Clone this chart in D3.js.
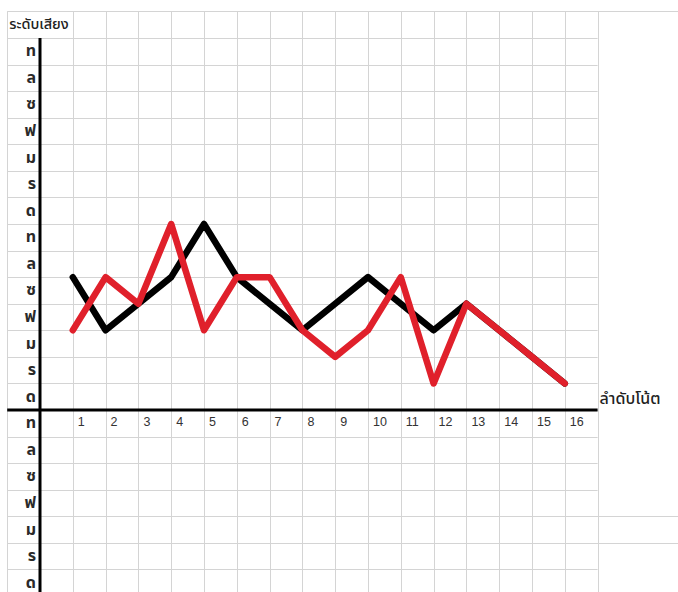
<!DOCTYPE html>
<html>
<head>
<meta charset="utf-8">
<script src="https://cdn.jsdelivr.net/npm/d3@7"></script>
<style>
html,body{margin:0;padding:0;background:#fff;}
svg{display:block;}
</style>
</head>
<body>
<svg id="chart" width="678" height="592"></svg>
<script>
// ---- data ----
const noteOrder = [1,2,3,4,5,6,7,8,9,10,11,12,13,14,15,16];
const blackLevels = [5,3,4,5,7,5,4,3,4,5,4,3,4,3,2,1];
const redLevels   = [3,5,4,7,3,5,5,3,2,3,5,1,4,3,2,1];
const upperLabels = ["ด","ร","ม","ฟ","ซ","ล","ท","ด","ร","ม","ฟ","ซ","ล","ท"]; // cells 1..14 from axis upward
const lowerLabels = ["ท","ล","ซ","ฟ","ม","ร","ด"]; // cells below axis, top to bottom
const yTitle = "ระดับเสียง";
const xTitle = "ลำดับโน้ต";

// ---- drawing ----
const svg = d3.select("#chart");
const W = 678, H = 592;
const x = d3.scaleLinear().domain([0,17]).range([40,597.6]);
const y = d3.scaleLinear().domain([0,14]).range([410,38]);
const thaiFont = "Tahoma, 'Noto Sans Thai', 'Noto Sans', sans-serif";
const gridColor = "#d4d4d4";

const grid = svg.append("g");
// horizontal grid lines
const hLevels = d3.range(-7, 16);
grid.selectAll("line.h").data(hLevels).join("line")
  .attr("x1", x(-1)).attr("x2", d => (d===15 || d===-4 || d===-5) ? W : x(17))
  .attr("y1", d => Math.round(y(d))+0.5).attr("y2", d => Math.round(y(d))+0.5)
  .attr("stroke", gridColor).attr("stroke-width", 1);
// vertical grid lines
const vCols = [-1].concat(d3.range(1,18));
grid.selectAll("line.v").data(vCols).join("line")
  .attr("x1", d => Math.round(x(d))+0.5).attr("x2", d => Math.round(x(d))+0.5)
  .attr("y1", y(15)).attr("y2", H)
  .attr("stroke", gridColor).attr("stroke-width", 1);

// header white cover so title overflows across column boundary
svg.append("rect").attr("x", x(-1)+1).attr("y", y(15)+1)
  .attr("width", x(1)-x(-1)-2).attr("height", y(14)-y(15)-2).attr("fill","#fff");

// axes
svg.append("line").attr("x1", x(0)).attr("x2", x(0)).attr("y1", y(14)).attr("y2", H)
  .attr("stroke","#000").attr("stroke-width",3);
svg.append("line").attr("x1", x(-1)).attr("x2", x(17)).attr("y1", y(0)).attr("y2", y(0))
  .attr("stroke","#000").attr("stroke-width",3);

// y labels
svg.append("g").selectAll("text").data(upperLabels).join("text")
  .attr("x", x(0)-4).attr("y", (d,i) => y(i+0.5))
  .attr("text-anchor","end").attr("dominant-baseline","central")
  .attr("font-family", thaiFont).attr("font-size", 16).attr("font-weight","bold")
  .attr("fill","#2a2a2a").text(d => d);
svg.append("g").selectAll("text").data(lowerLabels).join("text")
  .attr("x", x(0)-4).attr("y", (d,i) => y(-i-0.5))
  .attr("text-anchor","end").attr("dominant-baseline","central")
  .attr("font-family", thaiFont).attr("font-size", 16).attr("font-weight","bold")
  .attr("fill","#2a2a2a").text(d => d);

// x labels
svg.append("g").selectAll("text").data(noteOrder).join("text")
  .attr("x", d => x(d)+5).attr("y", y(-0.45))
  .attr("dominant-baseline","central")
  .attr("font-family","'Liberation Sans', Arial, sans-serif").attr("font-size", 12.5)
  .attr("fill","#333").text(d => d);

// titles
svg.append("text").attr("x", x(-1)+2).attr("y", y(14.5))
  .attr("dominant-baseline","central")
  .attr("font-family", thaiFont).attr("font-size", 14.5).attr("font-weight", 500)
  .attr("fill","#222").text(yTitle);
svg.append("text").attr("x", x(17)+2).attr("y", y(0.4))
  .attr("dominant-baseline","central")
  .attr("font-family", thaiFont).attr("font-size", 16).attr("font-weight", 500)
  .attr("fill","#222").text(xTitle);

// lines
const line = d3.line().x((d,i) => x(noteOrder[i])).y(d => y(d));
svg.append("path").datum(blackLevels).attr("d", line)
  .attr("fill","none").attr("stroke","#000").attr("stroke-width",6.5)
  .attr("stroke-linejoin","round").attr("stroke-linecap","round");
svg.append("path").datum(redLevels).attr("d", line)
  .attr("fill","none").attr("stroke","#e0202b").attr("stroke-width",6.5)
  .attr("stroke-linejoin","round").attr("stroke-linecap","round");
</script>
</body>
</html>
